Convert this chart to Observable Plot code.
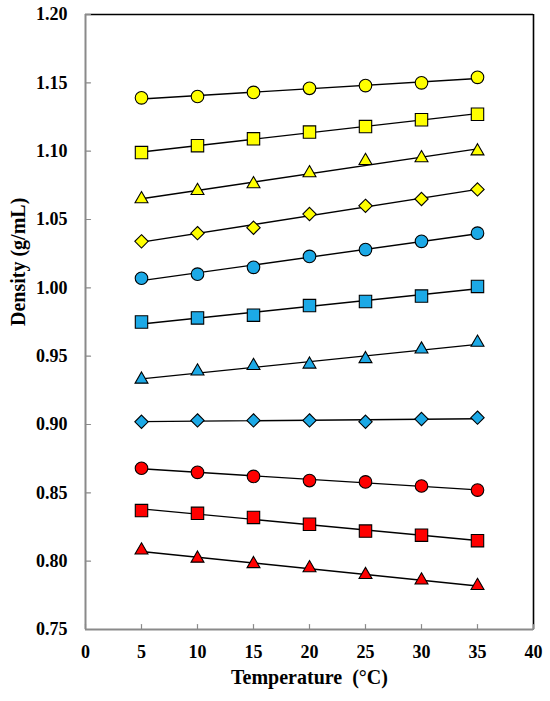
<!DOCTYPE html>
<html>
<head>
<meta charset="utf-8">
<script src="https://cdn.jsdelivr.net/npm/d3@7"></script>
<script src="https://cdn.jsdelivr.net/npm/@observablehq/plot@0.6"></script>
<style>
  html, body { margin: 0; padding: 0; background: #fff; }
  #chart { width: 550px; height: 701px; }
  #chart svg, #chart svg text { font-family: 'Liberation Serif', 'Times New Roman', serif !important; }
</style>
</head>
<body>
<div id="chart"></div>
<script>
// ---- data ----
const temperatures = [5, 10, 15, 20, 25, 30, 35];
const xTicks = [0, 5, 10, 15, 20, 25, 30, 35, 40];
const yTicks = [0.75, 0.80, 0.85, 0.90, 0.95, 1.00, 1.05, 1.10, 1.15, 1.20];

const yellowCircle   = [1.139, 1.140, 1.143, 1.146, 1.148, 1.150, 1.154];
const yellowSquare   = [1.099, 1.104, 1.109, 1.114, 1.118, 1.123, 1.127];
const yellowTriangle = [1.065, 1.071, 1.076, 1.084, 1.093, 1.095, 1.100];
const yellowDiamond  = [1.034, 1.040, 1.044, 1.054, 1.060, 1.065, 1.072];
const blueCircle     = [1.007, 1.010, 1.015, 1.023, 1.028, 1.034, 1.040];
const blueSquare     = [0.975, 0.978, 0.980, 0.987, 0.990, 0.994, 1.001];
const blueTriangle   = [0.933, 0.939, 0.943, 0.944, 0.948, 0.955, 0.960];
const blueDiamond    = [0.902, 0.903, 0.903, 0.903, 0.902, 0.904, 0.905];
const redCircle      = [0.868, 0.865, 0.862, 0.859, 0.858, 0.855, 0.852];
const redSquare      = [0.837, 0.835, 0.832, 0.827, 0.822, 0.819, 0.815];
const redTriangle    = [0.808, 0.802, 0.798, 0.795, 0.790, 0.786, 0.782];

const seriesList = [
  {name: "yellowCircle",   values: yellowCircle,   shape: "circle",   color: "yellow"},
  {name: "yellowSquare",   values: yellowSquare,   shape: "square",   color: "yellow"},
  {name: "yellowTriangle", values: yellowTriangle, shape: "triangle", color: "yellow"},
  {name: "yellowDiamond",  values: yellowDiamond,  shape: "diamond",  color: "yellow"},
  {name: "blueCircle",     values: blueCircle,     shape: "circle",   color: "blue"},
  {name: "blueSquare",     values: blueSquare,     shape: "square",   color: "blue"},
  {name: "blueTriangle",   values: blueTriangle,   shape: "triangle", color: "blue"},
  {name: "blueDiamond",    values: blueDiamond,    shape: "diamond",  color: "blue"},
  {name: "redCircle",      values: redCircle,      shape: "circle",   color: "red"},
  {name: "redSquare",      values: redSquare,      shape: "square",   color: "red"},
  {name: "redTriangle",    values: redTriangle,    shape: "triangle", color: "red"}
];

// ---- styles ----
const fillColors = {yellow: "#FFFF00", blue: "#1CA9E6", red: "#FF0000"};
const symbolNames = {circle: "circle", square: "square", triangle: "triangle", diamond: "diamond2"};
const symbolRadius = {circle: 6.3, square: 7, triangle: 4.8, diamond: 6};

const rows = seriesList.flatMap(s => s.values.map((v, i) => ({
  series: s.name, shape: s.shape, color: s.color, t: temperatures[i], d: v
})));

const font = "'Liberation Serif', 'Times New Roman', serif";
const axisGray = "#8a8a8a";
const lineShape = {draw(context, l) { context.moveTo(0, 0); context.lineTo(0, -l); }};

const dotMarks = Object.keys(symbolNames).map(shape =>
  Plot.dot(rows.filter(r => r.shape === shape), {
    x: "t", y: "d",
    symbol: () => symbolNames[shape],
    r: symbolRadius[shape],
    fill: r => fillColors[r.color],
    stroke: "#000", strokeWidth: 1.1
  })
);

const chart = Plot.plot({
  width: 550,
  height: 701,
  marginLeft: 85,
  marginRight: 17,
  marginTop: 14,
  marginBottom: 72,
  style: {fontFamily: font, background: "#fff", color: "#000", overflow: "visible"},
  x: {domain: [0, 40]},
  y: {domain: [0.75, 1.20]},
  color: {type: "identity"},
  symbol: {type: "identity"},
  marks: [
    // frame: gray left/bottom axes, black top/right borders
    Plot.ruleY([1.20], {stroke: "#000", strokeWidth: 1.6}),
    Plot.ruleX([40], {stroke: "#000", strokeWidth: 1.6}),
    Plot.ruleX([0], {stroke: axisGray, strokeWidth: 2}),
    Plot.ruleY([0.75], {stroke: axisGray, strokeWidth: 2}),
    // inward ticks
    Plot.vector(xTicks, {x: d => d, y: 0.75, length: 5, rotate: 0, anchor: "start", shape: lineShape, stroke: axisGray, strokeWidth: 1.2}),
    Plot.vector(yTicks, {x: 0, y: d => d, length: 5, rotate: 90, anchor: "start", shape: lineShape, stroke: axisGray, strokeWidth: 1.2}),
    Plot.axisX({ticks: xTicks, tickSize: 0, tickPadding: 16, fontSize: 18, fontWeight: "bold", fontFamily: font, label: null, tickFormat: d3.format("d")}),
    Plot.axisY({ticks: yTicks, tickSize: 0, tickPadding: 18, fontSize: 18, fontWeight: "bold", fontFamily: font, label: null, tickFormat: d3.format(".2f")}),
    // trend lines
    Plot.linearRegressionY(rows, {x: "t", y: "d", z: "series", stroke: "#000", strokeWidth: 1.4, ci: 0}),
    ...dotMarks,
    // axis titles
    Plot.text(["Temperature\u00a0 (°C)"], {frameAnchor: "bottom", dy: 54, fontSize: 20, fontWeight: "bold", fontFamily: font, fill: "#000", text: d => d}),
    Plot.text(["Density (g/mL)"], {frameAnchor: "left", dx: -67, dy: 4, rotate: -90, fontSize: 20, fontWeight: "bold", fontFamily: font, fill: "#000", text: d => d})
  ]
});
document.getElementById("chart").appendChild(chart);
</script>
</body>
</html>
